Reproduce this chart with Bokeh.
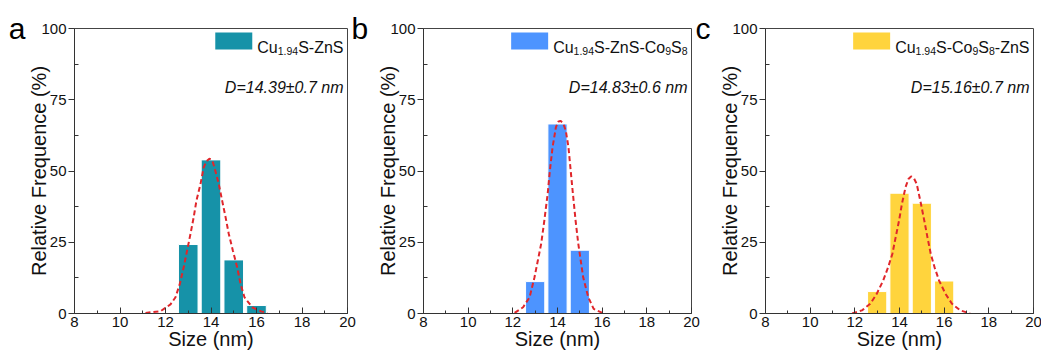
from bokeh.plotting import figure
from bokeh.layouts import row
from bokeh.models import Label, FixedTicker, Range1d, LinearAxis
from bokeh.embed import file_html
from bokeh.resources import INLINE

# ---------------- data ----------------
size_ticks = [8, 10, 12, 14, 16, 18, 20]
freq_ticks = [0, 25, 50, 75, 100]

sizes_a = [13, 14, 15, 16]
freq_a = [24.2, 53.9, 18.8, 2.8]
fit_a_x = [11.12, 11.78, 12.22, 12.44, 12.63, 12.80, 12.95, 13.10, 13.24, 13.36, 13.54, 13.68, 13.80,
           13.93, 14.05, 14.15, 14.34, 14.49, 14.64, 14.78, 14.96, 15.15, 15.30, 15.47, 15.81, 16.18, 16.47]
fit_a_y = [0.2, 0.8, 3.2, 5.7, 10.4, 16.2, 22.1, 28.0, 33.8, 39.6, 45.5, 51.3, 53.4,
           54.3, 53.8, 51.3, 45.5, 39.6, 33.8, 28.0, 22.1, 16.2, 10.4, 5.7, 2.2, 0.8, 0.2]

sizes_b = [13, 14, 15]
freq_b = [11.2, 66.5, 22.2]
fit_b_x = [12.08, 12.46, 12.75, 12.97, 13.12, 13.27, 13.41, 13.56, 13.66, 13.78, 13.93, 14.03, 14.13,
           14.25, 14.37, 14.49, 14.59, 14.69, 14.81, 14.93, 15.04, 15.15, 15.38, 15.62, 16.07]
fit_b_y = [0.2, 2.2, 5.7, 12.7, 18.6, 24.5, 32.6, 42.0, 50.2, 58.4, 65.4, 67.3, 67.6,
           66.8, 64.2, 58.4, 50.2, 42.0, 32.6, 24.5, 18.6, 12.7, 5.7, 1.6, 0.0]

sizes_c = [13, 14, 15, 16]
freq_c = [7.7, 42.2, 38.7, 11.4]
fit_c_x = [11.88, 12.32, 12.69, 12.98, 13.27, 13.49, 13.68, 13.83, 13.98, 14.11, 14.27, 14.40, 14.52,
           14.65, 14.77, 14.96, 15.11, 15.25, 15.40, 15.57, 15.77, 16.06, 16.35, 16.72, 17.16]
fit_c_y = [0.0, 1.1, 3.4, 6.9, 11.6, 16.2, 20.9, 26.8, 32.6, 38.5, 44.3, 47.2, 48.1,
           47.4, 45.5, 38.5, 32.6, 26.8, 20.9, 16.2, 11.6, 6.9, 3.4, 1.1, 0.0]

legend_a = [("Cu", False), ("1.94", True), ("S-ZnS", False)]
legend_b = [("Cu", False), ("1.94", True), ("S-ZnS-Co", False), ("9", True), ("S", False), ("8", True)]
legend_c = [("Cu", False), ("1.94", True), ("S-Co", False), ("9", True), ("S", False), ("8", True), ("-ZnS", False)]

mean_a = "D=14.39±0.7 nm"
mean_b = "D=14.83±0.6 nm"
mean_c = "D=15.16±0.7 nm"

# ---------------- style ----------------
FONT = "Liberation Sans"
MAIN = 16
SUB = 10.5
ARIAL = {"C": 722, "u": 556, ".": 278, "S": 667, "-": 333, "Z": 611, "n": 556, "o": 556}


def text_width(s, size):
    return sum(ARIAL.get(ch, 556) for ch in s) * size / 1000.0


FRAME_H = 285


def letter_axis(letter, standoff):
    return LinearAxis(ticker=FixedTicker(ticks=[100], minor_ticks=[]),
                      major_label_overrides={100: letter},
                      axis_line_color=None, major_tick_line_color=None, minor_tick_line_color=None,
                      major_tick_in=0, major_tick_out=0, minor_tick_in=0, minor_tick_out=0,
                      major_label_standoff=standoff, major_label_text_font=FONT,
                      major_label_text_font_size="30px", major_label_text_color="#000000")


def make_panel(sizes, freq, fx, fy, color, parts, dtext, bl, fw, br, left_letter=None, right_letter=None):
    p = figure(width=bl + fw + br, height=358, frame_width=fw, frame_height=FRAME_H,
               x_range=Range1d(8, 20), y_range=Range1d(0, 100),
               output_backend="svg", toolbar_location=None,
               min_border_left=bl, min_border_right=br, min_border_top=28, min_border_bottom=45)
    p.background_fill_color = "white"
    p.border_fill_color = "white"
    p.outline_line_color = "#444444"
    p.outline_line_width = 1
    p.xgrid.visible = False
    p.ygrid.visible = False

    p.vbar(x=sizes, top=freq, width=0.86, bottom=0, fill_color=color, line_color="white", line_width=1)
    p.line(fx, fy, line_color="#E0262B", line_width=2, line_dash="5 3")

    xa = p.xaxis[0]
    xa.ticker = FixedTicker(ticks=size_ticks, minor_ticks=[9, 11, 13, 15, 17, 19])
    xa.major_tick_in = 6
    xa.major_tick_out = 0
    xa.minor_tick_in = 3
    xa.minor_tick_out = 0
    xa.axis_label = "Size (nm)"
    xa.major_label_standoff = 3
    xa.axis_label_standoff = -2

    ya = p.yaxis[0]
    ya.ticker = FixedTicker(ticks=freq_ticks, minor_ticks=[12.5, 37.5, 62.5, 87.5])
    ya.major_tick_in = 0
    ya.major_tick_out = 6
    ya.minor_tick_in = 4
    ya.minor_tick_out = 0
    ya.axis_label = "Relative Frequence (%)"
    ya.major_label_standoff = 2
    ya.axis_label_standoff = -12

    for ax in (xa, ya):
        ax.axis_line_color = "#333333"
        ax.major_tick_line_color = "#333333"
        ax.minor_tick_line_color = "#333333"
        ax.major_label_text_font = FONT
        ax.major_label_text_font_size = "15px"
        ax.major_label_text_color = "#111111"
        ax.axis_label_text_font = FONT
        ax.axis_label_text_font_size = "20px"
        ax.axis_label_text_font_style = "normal"
        ax.axis_label_text_color = "#111111"

    # panel letters: bare axes whose single tick label is the letter
    if left_letter:
        p.add_layout(letter_axis(left_letter, 0), "left")
    if right_letter:
        p.add_layout(letter_axis(right_letter, 4), "right")

    # legend entry: swatch + composed label with subscripts
    total = sum(text_width(t, SUB if sub else MAIN) for t, sub in parts)
    start = -(4 + total)
    cur = start
    for t, sub in parts:
        size = SUB if sub else MAIN
        p.add_layout(Label(x=20, y=100, x_offset=cur, y_offset=(-22.5 if sub else -19), text=t,
                           text_font=FONT, text_font_size=f"{size}px", text_color="#111111",
                           text_align="left", text_baseline="alphabetic"))
        cur += text_width(t, size)
    px_per_x = fw / 12.0
    px_per_y = FRAME_H / 100.0
    sw_right = start - 5
    p.rect(x=[20 + (sw_right - 18.5) / px_per_x], y=[100 - 12.5 / px_per_y], width=37, height=17,
           width_units="screen", height_units="screen", fill_color=color, line_color=None)

    p.add_layout(Label(x=20, y=100, x_offset=-4, y_offset=-59, text=dtext, text_font=FONT,
                       text_font_size="16px", text_font_style="italic", text_color="#111111",
                       text_align="right", text_baseline="alphabetic"))
    return p


pa = make_panel(sizes_a, freq_a, fit_a_x, fit_a_y, "#1692A8", legend_a, mean_a, 74, 273, 21,
                left_letter="a", right_letter="b")
pb = make_panel(sizes_b, freq_b, fit_b_x, fit_b_y, "#4D94FF", legend_b, mean_b, 52, 268, 20,
                right_letter="c")
pc = make_panel(sizes_c, freq_c, fit_c_x, fit_c_y, "#FFD43D", legend_c, mean_c, 52, 268, 13)

layout = row(pa, pb, pc, spacing=0)
open("out.html", "w").write(file_html(layout, INLINE))
